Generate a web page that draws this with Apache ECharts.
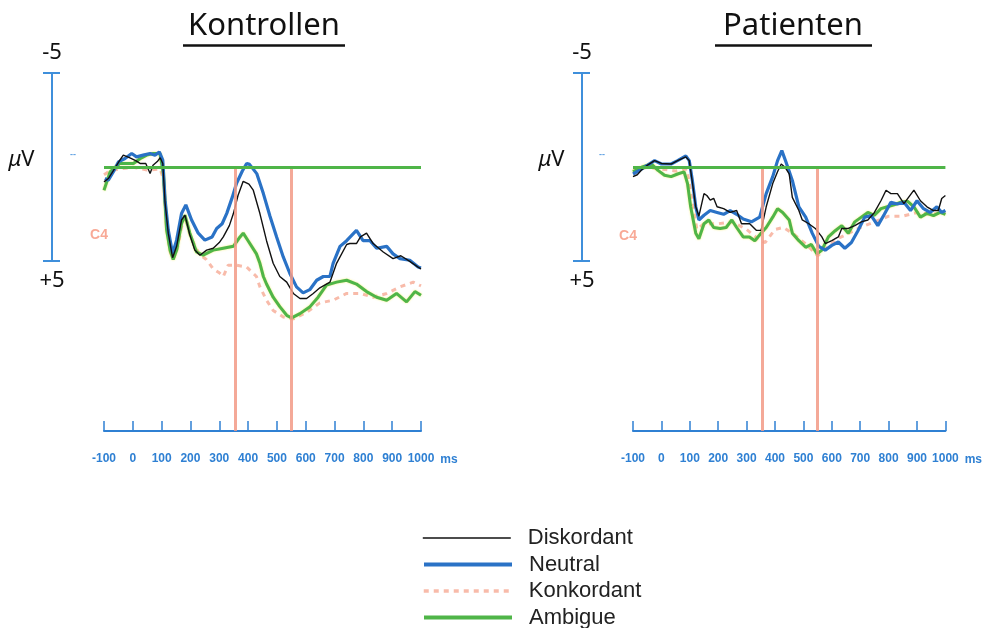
<!DOCTYPE html>
<html><head><meta charset="utf-8">
<script src="https://cdn.jsdelivr.net/npm/echarts@6/dist/echarts.min.js"></script>
<style>html,body{margin:0;padding:0;background:#fff}#c{width:985px;height:628px}</style>
</head><body><div id="c"></div><script>
// ---- data (time in ms, amplitude in µV; negative plotted upward) ----
const seriesNames = ['Diskordant', 'Neutral', 'Konkordant', 'Ambigue'];
const panelTitles = ['Kontrollen', 'Patienten'];
const markerTimes = [355, 550];
const xMin = -100, xMax = 1000, xStep = 100;
const scaleBar = [-5, 5];

const ctrlDiskordant = [[-100,0.78],[-85,0.6],[-68,0.2],[-45,-0.37],[-33,-0.64],[-10,-0.5],[10,-0.35],[25,-0.2],[45,-0.2],[60,0.33],[70,-0.1],[85,-0.3],[95,-0.5],[104,-0.2],[112,1.9],[123,3.5],[138,4.8],[152,4.2],[169,2.8],[181,2.55],[198,3.6],[215,4.4],[233,4.67],[256,4.4],[279,4.3],[300,4.0],[314,3.7],[335,3.1],[349,2.46],[365,1.5],[383,0.75],[389,0.69],[403,0.9],[418,1.22],[441,2.46],[464,3.9],[487,5.1],[510,5.8],[534,6.1],[557,6.7],[580,6.97],[603,6.97],[626,6.7],[649,6.4],[684,6.1],[707,5.1],[742,4.1],[753,4.05],[776,4.05],[790,3.7],[811,3.5],[834,4.05],[869,4.5],[903,4.85],[930,4.7],[961,5.0],[990,5.3],[1000,5.4]];
const ctrlNeutral = [[-97,0.6],[-85,0.69],[-68,0.25],[-50,-0.28],[-27,-0.46],[-4,-0.73],[13,-0.55],[36,-0.64],[60,-0.73],[77,-0.64],[92,-0.81],[104,-0.37],[112,1.75],[123,3.34],[138,4.58],[152,3.87],[169,2.46],[184,2.0],[204,2.8],[227,3.5],[250,3.87],[256,3.9],[275,3.7],[291,3.25],[310,3.0],[326,2.45],[345,1.6],[360,0.85],[380,0.2],[395,-0.2],[405,-0.15],[430,0.34],[453,1.4],[476,2.6],[499,3.7],[522,4.76],[545,5.64],[568,6.35],[591,6.67],[614,6.5],[638,6.0],[661,5.8],[684,5.8],[695,5.1],[719,4.2],[742,3.9],[776,3.35],[799,3.9],[823,3.9],[846,4.3],[881,4.2],[903,4.6],[927,4.85],[961,4.94],[990,5.3],[1000,5.35]];
const ctrlKonkordant = [[-100,0.4],[-80,0.2],[-50,0.1],[0,0.0],[50,0.15],[95,0.1],[106,0.6],[117,3.2],[130,4.5],[140,4.9],[155,4.3],[170,3.1],[182,2.6],[200,3.7],[230,4.6],[255,4.9],[279,5.4],[300,5.6],[314,5.8],[331,5.2],[360,5.2],[395,5.3],[429,5.8],[441,6.35],[464,7.06],[487,7.6],[522,7.95],[557,8.05],[603,7.7],[649,7.2],[695,7.06],[742,6.7],[790,6.7],[834,6.9],[881,6.7],[927,6.35],[973,6.1],[1000,6.3]];
const ctrlAmbigue = [[-100,1.22],[-79,0.25],[-45,-0.2],[2,-0.2],[25,-0.45],[48,-0.64],[71,-0.73],[94,-0.73],[106,0.33],[117,3.3],[129,4.4],[140,4.9],[152,4.4],[169,3.0],[181,2.55],[198,3.5],[221,4.5],[244,4.67],[279,4.4],[314,4.3],[349,4.2],[372,3.7],[383,3.5],[400,3.9],[429,4.6],[441,5.1],[453,5.8],[464,6.2],[487,6.9],[510,7.4],[534,7.86],[551,8.0],[580,7.77],[615,7.4],[643,6.9],[672,6.26],[707,6.1],[742,6.0],[776,6.2],[811,6.6],[846,6.9],[881,7.06],[915,6.7],[950,7.15],[979,6.6],[1000,6.8]];

const patDiskordant = [[-100,0.5],[-85,0.4],[-70,0.15],[-50,-0.1],[-24,-0.35],[0,-0.2],[34,-0.17],[57,-0.35],[86,-0.55],[98,-0.35],[109,0.8],[121,2.1],[132,2.6],[150,1.4],[160,1.5],[172,1.75],[184,1.65],[196,2.1],[219,2.2],[242,2.4],[265,2.3],[282,3.0],[311,3.0],[334,3.35],[351,3.35],[369,2.1],[392,0.87],[410,0.2],[422,-0.17],[435,0.0],[450,0.36],[461,1.6],[484,2.3],[496,2.8],[519,3.0],[542,3.25],[565,3.7],[577,4.05],[600,3.9],[623,3.7],[635,3.25],[658,3.25],[681,3.1],[704,2.9],[727,2.8],[750,2.4],[773,1.78],[791,1.22],[808,1.4],[831,1.4],[854,1.93],[889,1.22],[912,1.78],[935,2.1],[958,2.3],[975,2.3],[987,1.66],[1000,1.5]];
const patNeutral = [[-100,0.36],[-70,0.1],[-24,-0.35],[0,-0.17],[34,-0.17],[57,-0.35],[86,-0.6],[98,-0.35],[109,0.7],[121,2.1],[132,2.8],[150,2.55],[172,2.3],[196,2.4],[219,2.5],[242,2.3],[265,2.5],[288,2.75],[317,2.9],[346,2.65],[369,1.4],[392,0.5],[409,-0.35],[424,-0.88],[438,-0.3],[445,0.0],[461,0.7],[484,2.1],[508,2.65],[531,3.5],[554,4.2],[577,4.4],[600,4.15],[623,3.97],[646,4.3],[669,4.0],[692,3.37],[716,2.65],[739,2.57],[762,3.1],[785,2.5],[808,1.86],[831,1.95],[854,1.86],[877,2.3],[900,1.78],[923,2.2],[946,2.4],[970,2.1],[987,2.4],[1000,2.3]];
const patKonkordant = [[-100,0.2],[-50,0.0],[0,0.1],[50,0.2],[90,0.1],[105,1.5],[125,3.3],[150,3.0],[200,3.0],[250,2.9],[300,3.3],[340,3.8],[365,4.0],[400,3.3],[430,3.2],[470,3.6],[510,4.1],[550,4.7],[580,4.3],[620,3.8],[660,3.5],[700,3.2],[750,2.9],[800,2.6],[850,2.6],[900,2.4],[950,2.5],[1000,2.4]];
const patAmbigue = [[-100,0.25],[-70,0.0],[-35,-0.17],[-12,0.17],[11,0.43],[34,0.5],[57,0.36],[80,0.25],[92,0.87],[103,2.1],[121,3.5],[132,3.8],[150,3.0],[167,2.8],[184,3.2],[207,3.25],[228,3.2],[248,2.8],[265,3.2],[288,3.7],[310,3.7],[329,3.9],[351,3.5],[369,3.2],[392,2.65],[409,2.2],[427,2.4],[450,2.8],[461,3.5],[484,3.9],[508,4.25],[528,4.1],[548,4.6],[565,4.4],[588,3.7],[612,3.37],[635,3.1],[658,3.5],[681,2.9],[704,2.65],[727,2.4],[750,2.55],[773,2.2],[796,2.1],[819,2.0],[843,1.86],[866,1.8],[889,2.1],[912,2.65],[935,2.45],[958,2.57],[981,2.4],[1000,2.5]];

const panelData = [
  {Diskordant: ctrlDiskordant, Neutral: ctrlNeutral, Konkordant: ctrlKonkordant, Ambigue: ctrlAmbigue},
  {Diskordant: patDiskordant, Neutral: patNeutral, Konkordant: patKonkordant, Ambigue: patAmbigue}
];

// ---- styles ----
const AX_BLUE = '#2f80d3';
const BAR_BLUE = '#3f8fdb';
const GREEN = '#4fb548';
const SALMON = '#f5a48e';
const RED = '#f29a86';
const lineStyles = {
  Diskordant: {color: '#111111', width: 1.4, type: 'solid'},
  Neutral: {color: '#2a72c6', width: 3.2, type: 'solid'},
  Konkordant: {color: SALMON, width: 3, type: [5, 5], opacity: 0.75},
  Ambigue: {color: GREEN, width: 3, type: 'solid', shadowColor: 'rgba(240,230,60,0.7)', shadowBlur: 2}
};
const legendWidths = {Diskordant: 1.6, Neutral: 4, Konkordant: 3.5, Ambigue: 4};
const drawOrder = ['Konkordant', 'Ambigue', 'Neutral', 'Diskordant'];

const dataLefts = [104, 633];
const barLefts = [52, 582];
const yLow = -5, yHigh = 14;

const grid = [], xAxis = [], yAxis = [], series = [], graphic = [];
const FONT = '"Noto Sans", "Open Sans", sans-serif';
const NARROW = '"Liberation Sans Narrow", "Liberation Sans", sans-serif';

dataLefts.forEach((left, p) => {
  grid.push({left: left, top: 73, width: 317, height: 358});
  xAxis.push({
    gridIndex: grid.length - 1, type: 'value', min: xMin, max: xMax, interval: xStep,
    axisLine: {show: true, onZero: false, lineStyle: {color: AX_BLUE, width: 2}},
    axisTick: {show: true, inside: true, length: 10, lineStyle: {color: AX_BLUE, width: 1.5}},
    splitLine: {show: false},
    axisLabel: {color: AX_BLUE, fontSize: 12, fontWeight: 'bold', margin: 22, fontFamily: NARROW,
      formatter: v => String(v)},
    name: 'ms', nameLocation: 'end', nameGap: 1,
    nameTextStyle: {color: AX_BLUE, fontSize: 12, fontWeight: 'bold', verticalAlign: 'top',
      padding: [23, 0, 0, 0], fontFamily: NARROW}
  });
  yAxis.push({gridIndex: grid.length - 1, type: 'value', min: yLow, max: yHigh, inverse: true, show: false});
  const xi = xAxis.length - 1, yi = yAxis.length - 1;
  drawOrder.forEach(name => {
    const s = {
      name: name, type: 'line', xAxisIndex: xi, yAxisIndex: yi,
      data: panelData[p][name], symbol: 'none', showSymbol: false, animation: false,
      lineStyle: lineStyles[name], itemStyle: {color: lineStyles[name].color}, z: 3
    };
    if (name === 'Konkordant') {
      s.markLine = {silent: true, symbol: ['none', 'none'], label: {show: false}, animation: false,
        lineStyle: {color: RED, width: 3, type: 'solid', opacity: 0.85},
        data: markerTimes.map(t => [{coord: [t, 0]}, {coord: [t, yHigh]}])};
    }
    if (name === 'Ambigue') {
      s.markLine = {silent: true, symbol: ['none', 'none'], label: {show: false}, animation: false,
        lineStyle: {color: GREEN, width: 3, type: 'solid', opacity: 1},
        data: [{yAxis: 0}]};
    }
    series.push(s);
  });
});

barLefts.forEach((left) => {
  grid.push({left: left, top: 73, width: 1, height: 188});
  const gi = grid.length - 1;
  xAxis.push({gridIndex: gi, type: 'value', min: 0, max: 1, show: false});
  yAxis.push({
    gridIndex: gi, type: 'value', min: scaleBar[0], max: scaleBar[1], interval: scaleBar[1] - scaleBar[0],
    inverse: true, position: 'left',
    axisLine: {show: true, lineStyle: {color: BAR_BLUE, width: 2}},
    axisTick: {show: true, length: 9, lineStyle: {color: BAR_BLUE, width: 2}},
    splitLine: {show: false},
    axisLabel: {show: true, margin: 0, align: 'center', color: '#111', fontSize: 22, fontFamily: FONT,
      formatter: v => v < 0 ? '{t|' + v + '}' : '{b|+' + v + '}',
      rich: {t: {fontSize: 22, fontFamily: FONT, color: '#111', padding: [0, 0, 40, 0]},
             b: {fontSize: 22, fontFamily: FONT, color: '#111', padding: [40, 0, 0, 0]}}},
    name: '{m|μ}V', nameLocation: 'middle', nameRotate: 0, nameGap: 1,
    nameTextStyle: {color: '#111', fontSize: 22, fontFamily: FONT, align: 'right', padding: [0, 0, 14, 0],
      rich: {m: {fontStyle: 'italic', fontSize: 22, fontFamily: FONT, color: '#111'}}}
  });
  yAxis.push({
    gridIndex: gi, type: 'value', min: scaleBar[0], max: scaleBar[1], interval: scaleBar[1] - scaleBar[0],
    inverse: true, position: 'left',
    axisLine: {show: true, lineStyle: {color: BAR_BLUE, width: 2}},
    axisTick: {show: true, inside: true, length: 8, lineStyle: {color: BAR_BLUE, width: 2}},
    axisLabel: {show: false}, splitLine: {show: false}
  });
});

// titles with underline, electrode labels
const titleCenters = [264, 793];
const underline = [[183, 345], [715, 872]];
panelTitles.forEach((t, i) => {
  graphic.push({type: 'text', x: titleCenters[i], y: 26,
    style: {text: t, fill: '#111', font: '31px ' + FONT, align: 'center', verticalAlign: 'middle'}});
  graphic.push({type: 'line', shape: {x1: underline[i][0], y1: 45.5, x2: underline[i][1], y2: 45.5},
    style: {stroke: '#111', lineWidth: 2.5}});
});
const c4Pos = [[99, 235], [628, 236]];
const dashPos = [[73, 155], [602, 155]];
c4Pos.forEach((pos, i) => {
  graphic.push({type: 'text', x: pos[0], y: pos[1],
    style: {text: 'C4', fill: 'rgba(245,140,115,0.75)', font: 'bold 14px "Liberation Sans", sans-serif', align: 'center', verticalAlign: 'middle'}});
  graphic.push({type: 'text', x: dashPos[i][0], y: dashPos[i][1],
    style: {text: '--', fill: 'rgba(60,140,220,0.8)', font: 'bold 9px "Liberation Sans", sans-serif', align: 'center', verticalAlign: 'middle'}});
});

// one legend box per row so rows keep the reference pitch
const legendRowTop = 527, legendRowPitch = 26.5;
const legend = seriesNames.map((n, i) => ({
  data: [{name: n, lineStyle: {width: legendWidths[n]}}],
  orient: 'vertical', left: 422, top: legendRowTop + i * legendRowPitch, padding: 0,
  itemWidth: 88, itemHeight: 18, selectedMode: false,
  itemStyle: {opacity: 0},
  textStyle: {fontSize: 22, color: '#222', fontFamily: '"Liberation Sans", Arial, sans-serif', padding: [0, 0, 0, 12]}
}));

const chart = echarts.init(document.getElementById('c'), null, {renderer: 'canvas'});
chart.setOption({
  animation: false,
  backgroundColor: '#ffffff',
  grid: grid, xAxis: xAxis, yAxis: yAxis, series: series, graphic: graphic,
  legend: legend
});
</script></body></html>
